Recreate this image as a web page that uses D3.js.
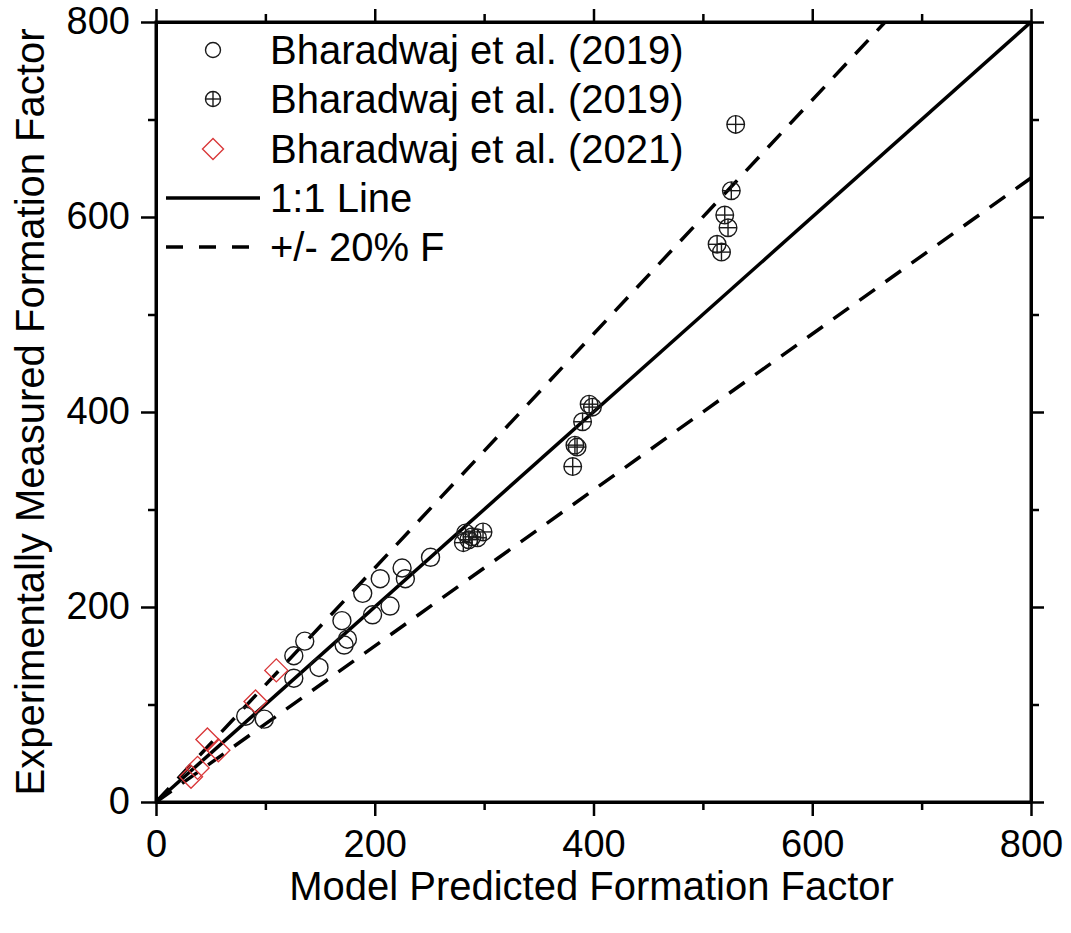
<!DOCTYPE html>
<html>
<head>
<meta charset="utf-8">
<script src="https://cdn.jsdelivr.net/npm/d3@7"></script>
<style>
  html, body { margin: 0; padding: 0; background: #fff; }
  svg { display: block; font-family: "Liberation Sans", Arial, sans-serif; }
</style>
</head>
<body>
<svg id="chart" width="1071" height="933"></svg>
<script>
// ---- Data ----
const openX = [82, 99, 126, 126, 136, 149, 170, 172, 175, 189, 198, 205, 214, 225, 228, 251];
const openY = [88, 85, 150, 127, 165, 138, 186, 161, 167, 214, 192, 229, 201, 240, 229, 251];

const crossX = [283, 289, 299, 281, 286, 294, 396, 399, 390, 383, 385, 381, 530, 526, 520, 523, 513, 517];
const crossY = [276, 272, 277, 266, 269, 271, 408, 405, 390, 366, 364, 344, 695, 627, 602, 589, 572, 564];

const diamX = [110, 91, 47, 57, 38, 32];
const diamY = [135, 103, 64, 53, 35, 26];

const majorTicks = [0, 200, 400, 600, 800];
const minorTicks = [100, 300, 500, 700];
const refRatios = [1, 1.2, 0.8];   // 1:1 line and +/-20% lines

const legendLabels = ["Bharadwaj et al. (2019)", "Bharadwaj et al. (2019)", "Bharadwaj et al. (2021)", "1:1 Line", "+/- 20% F"];
const xTitle = "Model Predicted Formation Factor";
const yTitle = "Experimentally Measured Formation Factor";

// ---- Layout ----
const svg = d3.select("#chart");
const L = 156, R = 1031, T = 22, B = 802;
const x = d3.scaleLinear().domain([0, 800]).range([L, R]);
const y = d3.scaleLinear().domain([0, 800]).range([B, T]);

const red = "#d9383a";
const ink = "#1a1a1a";

// ---- Reference lines ----
refRatios.forEach((k) => {
  const xe = Math.min(800, 800 / k);
  svg.append("line")
    .attr("x1", x(0)).attr("y1", y(0))
    .attr("x2", x(xe)).attr("y2", y(xe * k))
    .attr("stroke", "#000")
    .attr("stroke-width", 3.5)
    .attr("stroke-dasharray", k === 1 ? null : "19,13");
});

// ---- Markers ----
function crossCircle(g, cx, cy, r) {
  g.append("circle").attr("cx", cx).attr("cy", cy).attr("r", r)
    .attr("fill", "none").attr("stroke", ink).attr("stroke-width", 1.4);
  g.append("line").attr("x1", cx - r).attr("x2", cx + r).attr("y1", cy).attr("y2", cy)
    .attr("stroke", ink).attr("stroke-width", 1.4);
  g.append("line").attr("x1", cx).attr("x2", cx).attr("y1", cy - r).attr("y2", cy + r)
    .attr("stroke", ink).attr("stroke-width", 1.4);
}
function diamond(g, cx, cy, h) {
  g.append("path")
    .attr("d", `M${cx},${cy - h}L${cx + h},${cy}L${cx},${cy + h}L${cx - h},${cy}Z`)
    .attr("fill", "none").attr("stroke", red).attr("stroke-width", 1.4);
}

const gOpen = svg.append("g");
gOpen.selectAll("circle").data(openX.map((v, i) => [v, openY[i]])).join("circle")
  .attr("cx", d => x(d[0])).attr("cy", d => y(d[1])).attr("r", 9)
  .attr("fill", "none").attr("stroke", ink).attr("stroke-width", 1.4);

const gCross = svg.append("g");
crossX.forEach((v, i) => crossCircle(gCross, x(v), y(crossY[i]), 8.8));

const gDiam = svg.append("g");
diamX.forEach((v, i) => diamond(gDiam, x(v), y(diamY[i]), 11.5));

// ---- Axes ----
function styleAxis(g) {
  g.select(".domain").attr("stroke", "#000").attr("stroke-width", 3);
  g.selectAll(".tick line").attr("stroke", "#000").attr("stroke-width", 2.5);
  g.selectAll(".tick text").attr("fill", "#000").attr("font-size", 38)
    .attr("font-family", "'Liberation Sans', Arial, sans-serif");
}

// bottom
const gB = svg.append("g").attr("transform", `translate(0,${B})`)
  .call(d3.axisBottom(x).tickValues(majorTicks).tickSize(14).tickSizeOuter(0).tickPadding(14).tickFormat(d3.format("d")));
styleAxis(gB);
svg.append("g").attr("transform", `translate(0,${B})`)
  .call(d3.axisBottom(x).tickValues(minorTicks).tickSize(8).tickSizeOuter(0).tickFormat(""))
  .call(styleAxis).select(".domain").remove();

// top
const gT = svg.append("g").attr("transform", `translate(0,${T})`)
  .call(d3.axisTop(x).tickValues(majorTicks).tickSize(13).tickSizeOuter(0).tickFormat(""));
styleAxis(gT);
svg.append("g").attr("transform", `translate(0,${T})`)
  .call(d3.axisTop(x).tickValues(minorTicks).tickSize(8).tickSizeOuter(0).tickFormat(""))
  .call(styleAxis).select(".domain").remove();

// left
const gL = svg.append("g").attr("transform", `translate(${L},0)`)
  .call(d3.axisLeft(y).tickValues(majorTicks).tickSize(15).tickSizeOuter(0).tickPadding(11).tickFormat(d3.format("d")));
styleAxis(gL);
gL.selectAll(".tick text").attr("dy", "0.30em");
svg.append("g").attr("transform", `translate(${L},0)`)
  .call(d3.axisLeft(y).tickValues(minorTicks).tickSize(8).tickSizeOuter(0).tickFormat(""))
  .call(styleAxis).select(".domain").remove();

// right
const gR = svg.append("g").attr("transform", `translate(${R},0)`)
  .call(d3.axisRight(y).tickValues(majorTicks).tickSize(13).tickSizeOuter(0).tickFormat(""));
styleAxis(gR);
svg.append("g").attr("transform", `translate(${R},0)`)
  .call(d3.axisRight(y).tickValues(minorTicks).tickSize(8).tickSizeOuter(0).tickFormat(""))
  .call(styleAxis).select(".domain").remove();

// frame
svg.append("rect").attr("x", L).attr("y", T).attr("width", R - L).attr("height", B - T)
  .attr("fill", "none").attr("stroke", "#000").attr("stroke-width", 3);

// ---- Titles ----
svg.append("text").attr("x", (L + R) / 2 - 2).attr("y", 900)
  .attr("text-anchor", "middle").attr("font-size", 40).attr("fill", "#000").text(xTitle);
svg.append("text").attr("transform", `translate(44,${(T + B) / 2}) rotate(-90)`)
  .attr("text-anchor", "middle").attr("font-size", 40).attr("fill", "#000").text(yTitle);

// ---- Legend ----
const legY = [50, 99, 149, 198, 247];
const legMX = 213, legTX = 270;
const gLeg = svg.append("g");
gLeg.append("circle").attr("cx", legMX).attr("cy", legY[0]).attr("r", 7.5)
  .attr("fill", "none").attr("stroke", ink).attr("stroke-width", 1.4);
crossCircle(gLeg, legMX, legY[1], 7.5);
diamond(gLeg, legMX, legY[2], 10.5);
gLeg.append("line").attr("x1", 166).attr("x2", 260).attr("y1", legY[3]).attr("y2", legY[3])
  .attr("stroke", "#000").attr("stroke-width", 3.5);
gLeg.append("line").attr("x1", 166).attr("x2", 250).attr("y1", legY[4]).attr("y2", legY[4])
  .attr("stroke", "#000").attr("stroke-width", 3.5).attr("stroke-dasharray", "17,16");
legendLabels.forEach((t, i) => {
  gLeg.append("text").attr("x", legTX).attr("y", legY[i]).attr("dy", "0.36em")
    .attr("font-size", 40).attr("fill", "#000").text(t);
});
</script>
</body>
</html>
